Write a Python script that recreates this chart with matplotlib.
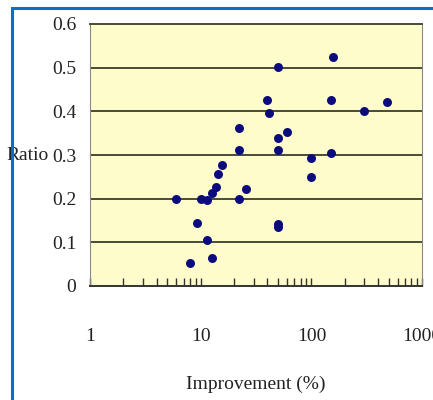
import matplotlib
matplotlib.use("Agg")
import matplotlib.pyplot as plt
from matplotlib.patches import Rectangle
from matplotlib.ticker import LogLocator, FixedLocator, NullFormatter

# data
improvement = [6, 8, 9.2, 10, 11.3, 11.3, 12.6, 12.6, 13.6, 14.4, 15.4,
               22, 22, 22, 25.4, 39.6, 41.6, 50, 50, 50, 50, 50, 59.5,
               100, 100, 149, 149, 155, 296, 481]
ratio = [0.20, 0.052, 0.145, 0.20, 0.198, 0.105, 0.065, 0.214, 0.226, 0.256, 0.278,
         0.362, 0.312, 0.20, 0.221, 0.426, 0.397, 0.501, 0.340, 0.311, 0.141, 0.134, 0.353,
         0.294, 0.249, 0.305, 0.425, 0.525, 0.401, 0.422]
x_ticks = [1, 10, 100, 1000]
x_tick_labels = ["1", "10", "100", "1000"]
y_ticks = [0, 0.1, 0.2, 0.3, 0.4, 0.5, 0.6]
y_tick_labels = ["0", "0.1", "0.2", "0.3", "0.4", "0.5", "0.6"]

plt.rcParams['font.family'] = ['Liberation Serif', 'DejaVu Serif']

fig = plt.figure(figsize=(4.33, 4.0), dpi=100)
ax = fig.add_axes([0.208, 0.285, 0.767, 0.655])
ax.set_facecolor('#FFFCCB')

# horizontal grid lines
for yv in y_ticks[1:-1]:
    ax.axhline(yv, color='#4a4a3a', linewidth=1.4, zorder=1)

ax.scatter(improvement, ratio, s=42, color='#0B0B7E', zorder=3, linewidths=0)

ax.set_xscale('log')
ax.set_xlim(1, 1000)
ax.set_ylim(0, 0.6)

ax.xaxis.set_major_locator(FixedLocator(x_ticks))
ax.set_xticklabels(x_tick_labels)
ax.xaxis.set_minor_locator(LogLocator(base=10, subs=range(2, 10)))
ax.xaxis.set_minor_formatter(NullFormatter())
ax.tick_params(axis='x', which='both', direction='in', length=6, width=1,
               color='#333333', pad=30, labelsize=14)
ax.set_yticks(y_ticks)
ax.set_yticklabels(y_tick_labels)
ax.tick_params(axis='y', length=0, pad=10, labelsize=14)

ax.spines['top'].set_color('#4a4a3a')
ax.spines['top'].set_linewidth(1.4)
ax.spines['bottom'].set_color('#333333')
ax.spines['bottom'].set_linewidth(1.4)
ax.spines['left'].set_color('#888888')
ax.spines['right'].set_color('#888888')

ax.set_xlabel('Improvement (%)', fontsize=14, labelpad=22, color='#222222')
ax.set_ylabel('Ratio', fontsize=14, rotation=0, ha='right', va='center', color='#222222')
ax.yaxis.set_label_coords(-0.125, 0.5)

for lbl in ax.get_xticklabels() + ax.get_yticklabels():
    lbl.set_color('#222222')

# blue frame around the figure
fig.patches.append(Rectangle((12 / 433, -0.1), 1.0, 1.1 - 8 / 400,
                             transform=fig.transFigure, fill=False,
                             edgecolor='#0A6FC8', linewidth=2.2))

fig.savefig('out.png', dpi=100)
